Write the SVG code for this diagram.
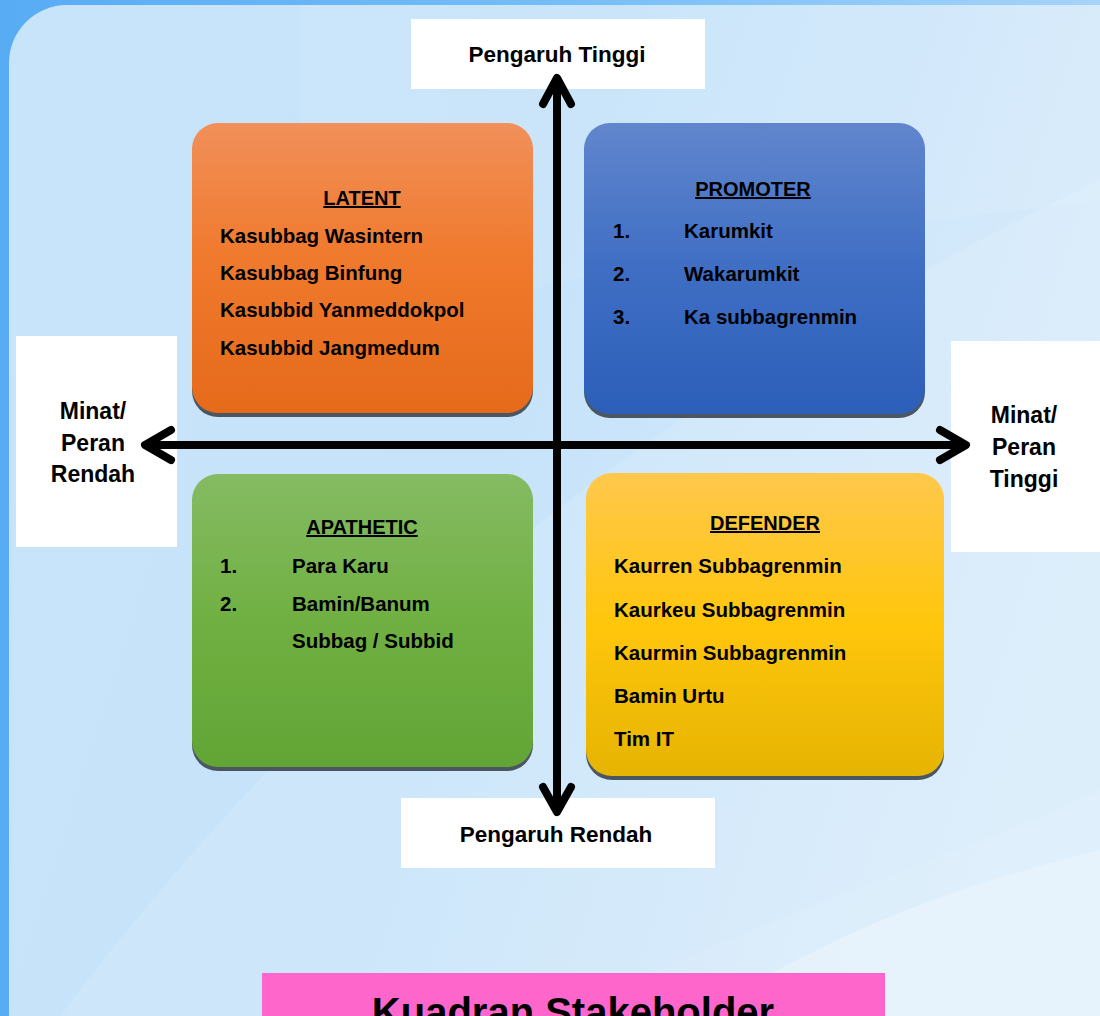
<svg xmlns="http://www.w3.org/2000/svg" width="1100" height="1016" viewBox="0 0 1100 1016">
<defs>
<linearGradient id="bgOuter" x1="0" y1="0" x2="1" y2="0">
<stop offset="0" stop-color="#58acf4"/><stop offset="0.5" stop-color="#74bdf8"/><stop offset="1" stop-color="#a6d3f9"/>
</linearGradient>
<linearGradient id="bgInner" x1="0" y1="0" x2="1" y2="0.3">
<stop offset="0" stop-color="#c8e4fb"/><stop offset="0.5" stop-color="#c6e3fa"/><stop offset="1" stop-color="#d9ecfb"/>
</linearGradient>
<linearGradient id="gOrange" x1="0" y1="0" x2="0" y2="1">
<stop offset="0" stop-color="#f1905a"/><stop offset="0.45" stop-color="#f07a2e"/><stop offset="1" stop-color="#e66a1a"/>
</linearGradient>
<linearGradient id="gBlue" x1="0" y1="0" x2="0" y2="1">
<stop offset="0" stop-color="#6186cd"/><stop offset="0.5" stop-color="#3f6ec4"/><stop offset="1" stop-color="#2c5fb9"/>
</linearGradient>
<linearGradient id="gGreen" x1="0" y1="0" x2="0" y2="1">
<stop offset="0" stop-color="#85bb63"/><stop offset="0.5" stop-color="#70b042"/><stop offset="1" stop-color="#62a535"/>
</linearGradient>
<linearGradient id="gYellow" x1="0" y1="0" x2="0" y2="1">
<stop offset="0" stop-color="#ffc84c"/><stop offset="0.5" stop-color="#ffc60c"/><stop offset="1" stop-color="#e6b402"/>
</linearGradient>
<style>
.t{font-family:"Liberation Sans",Arial,sans-serif;font-weight:bold;fill:#000;}
.b{font-size:20.5px;}
.h{font-size:20px;text-anchor:middle;text-decoration:underline;}
.ax{font-size:22.5px;text-anchor:middle;}
.sx{font-size:23px;text-anchor:middle;}
.lab{fill:#fff;}
.sh{fill:#4b5663;}
.arr{stroke:#000;stroke-width:8;fill:none;stroke-linecap:round;stroke-linejoin:round;}
</style>
</defs>
<rect x="0" y="0" width="1100" height="1016" fill="url(#bgOuter)"/>
<rect x="9" y="5" width="1150" height="1070" rx="58" fill="url(#bgInner)"/>
<path d="M60 1016 C 300 700 600 420 1100 180 L1100 1016 Z" fill="#ffffff" opacity="0.12"/>
<path d="M700 1016 C 850 920 980 880 1100 850 L1100 1016 Z" fill="#ffffff" opacity="0.25"/>
<path d="M560 1016 C 800 900 950 860 1100 790 L1100 1016 Z" fill="#ffffff" opacity="0.08"/>
<path d="M300 350 C 600 260 850 230 1100 200 L1100 5 L300 5 Z" fill="#ffffff" opacity="0.08"/>

<g id="label-top"><rect class="lab" x="411" y="19" width="294" height="70"/><text class="t ax" x="557" y="62">Pengaruh Tinggi</text></g>
<g id="label-bottom"><rect class="lab" x="401" y="798" width="314" height="70"/><text class="t ax" x="556" y="842">Pengaruh Rendah</text></g>
<g id="label-left"><rect class="lab" x="16" y="336" width="161" height="211"/>
<text class="t sx" x="93" y="419">Minat/</text><text class="t sx" x="93" y="451">Peran</text><text class="t sx" x="93" y="482">Rendah</text></g>
<g id="label-right"><rect class="lab" x="951" y="341" width="149" height="211"/>
<text class="t sx" x="1024" y="423">Minat/</text><text class="t sx" x="1024" y="455">Peran</text><text class="t sx" x="1024" y="487">Tinggi</text></g>

<g id="latent">
<rect class="sh" x="192" y="127" width="341" height="290" rx="26"/>
<rect x="192" y="123" width="341" height="290" rx="26" fill="url(#gOrange)"/>
<text class="t h" x="362" y="205">LATENT</text>
<text class="t b" x="220" y="243">Kasubbag Wasintern</text>
<text class="t b" x="220" y="280">Kasubbag Binfung</text>
<text class="t b" x="220" y="317">Kasubbid Yanmeddokpol</text>
<text class="t b" x="220" y="355">Kasubbid Jangmedum</text>
</g>
<g id="promoter">
<rect class="sh" x="584" y="127" width="341" height="291" rx="26"/>
<rect x="584" y="123" width="341" height="291" rx="26" fill="url(#gBlue)"/>
<text class="t h" x="753" y="196">PROMOTER</text>
<text class="t b" x="613" y="238">1.</text><text class="t b" x="684" y="238">Karumkit</text>
<text class="t b" x="613" y="281">2.</text><text class="t b" x="684" y="281">Wakarumkit</text>
<text class="t b" x="613" y="324">3.</text><text class="t b" x="684" y="324">Ka subbagrenmin</text>
</g>
<g id="apathetic">
<rect class="sh" x="192" y="478" width="341" height="293" rx="26"/>
<rect x="192" y="474" width="341" height="293" rx="26" fill="url(#gGreen)"/>
<text class="t h" x="362" y="534">APATHETIC</text>
<text class="t b" x="220" y="573">1.</text><text class="t b" x="292" y="573">Para Karu</text>
<text class="t b" x="220" y="611">2.</text><text class="t b" x="292" y="611">Bamin/Banum</text>
<text class="t b" x="292" y="648">Subbag / Subbid</text>
</g>
<g id="defender">
<rect class="sh" x="586" y="477" width="358" height="303" rx="26"/>
<rect x="586" y="473" width="358" height="303" rx="26" fill="url(#gYellow)"/>
<text class="t h" x="765" y="530">DEFENDER</text>
<text class="t b" x="614" y="573">Kaurren Subbagrenmin</text>
<text class="t b" x="614" y="617">Kaurkeu Subbagrenmin</text>
<text class="t b" x="614" y="660">Kaurmin Subbagrenmin</text>
<text class="t b" x="614" y="703">Bamin Urtu</text>
<text class="t b" x="614" y="746">Tim IT</text>
</g>

<g id="connectors">
<line class="arr" x1="557" y1="80" x2="557" y2="810"/>
<polyline class="arr" points="543,104 557,78 571,104"/>
<polyline class="arr" points="543,787 557,812 571,787"/>
<line class="arr" x1="147" y1="445" x2="964" y2="445"/>
<polyline class="arr" points="171,430 145,445 171,460"/>
<polyline class="arr" points="940,430 966,445 940,460"/>
</g>

<g id="title">
<rect x="262" y="973" width="623" height="60" fill="#ff66cc"/>
<text class="t" x="573" y="1026" font-size="40" text-anchor="middle">Kuadran Stakeholder</text>
</g>
</svg>
